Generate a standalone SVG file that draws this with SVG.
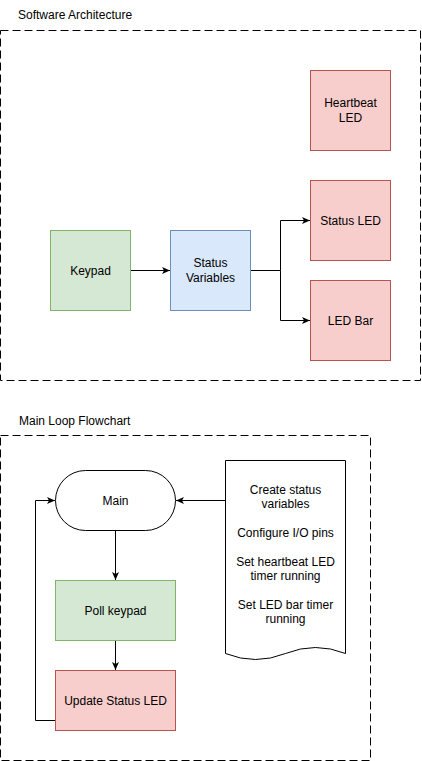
<svg xmlns="http://www.w3.org/2000/svg" width="422" height="761" viewBox="0 0 422 761">
<style>
text{font-family:"Liberation Sans",Arial,sans-serif;font-size:12px;fill:#000}
.c{text-anchor:middle}
.frame{fill:none;stroke:#000;stroke-dasharray:8 4}
.red{fill:#f8cecc;stroke:#b85450}
.green{fill:#d5e8d4;stroke:#82b366}
.blue{fill:#dae8fc;stroke:#6c8ebf}
.wht{fill:#fff;stroke:#000}
.ln{fill:none;stroke:#000;stroke-width:1}
</style>
<defs>
<marker id="arr" viewBox="0 0 8 8" refX="8" refY="4" markerWidth="8" markerHeight="8" markerUnits="userSpaceOnUse" orient="auto">
<path d="M0,0.5 L8,4 L0,7.5 L2,4 Z" fill="#000"/>
</marker>
</defs>
<rect width="422" height="761" fill="#fff"/>
<g id="frame-sw">
<rect class="frame" x="0.5" y="30.5" width="420" height="350"/>
<text x="18" y="19">Software Architecture</text>
</g>
<g id="frame-main">
<rect class="frame" x="0.5" y="435.5" width="370" height="325"/>
<text x="19" y="425">Main Loop Flowchart</text>
</g>
<g id="connectors">
<path class="ln" d="M130.5,270.5 H170" marker-end="url(#arr)"/>
<path class="ln" d="M250.5,270.5 H280.5 V220.5 H310" marker-end="url(#arr)"/>
<path class="ln" d="M280.5,270.5 V320.5 H310" marker-end="url(#arr)"/>
<path class="ln" d="M225.5,500.5 H176" marker-end="url(#arr)"/>
<path class="ln" d="M115.5,530.5 V580" marker-end="url(#arr)"/>
<path class="ln" d="M115.5,640.5 V670" marker-end="url(#arr)"/>
<path class="ln" d="M55.5,720.5 H35.5 V500.5 H55" marker-end="url(#arr)"/>
</g>
<g id="heartbeat-led">
<rect class="red" x="310.5" y="70.5" width="80" height="80"/>
<text class="c" x="350.5" y="107">Heartbeat</text>
<text class="c" x="350.5" y="122">LED</text>
</g>
<g id="status-led">
<rect class="red" x="310.5" y="180.5" width="80" height="80"/>
<text class="c" x="350.5" y="225">Status LED</text>
</g>
<g id="led-bar">
<rect class="red" x="310.5" y="280.5" width="80" height="80"/>
<text class="c" x="350.5" y="325">LED Bar</text>
</g>
<g id="keypad">
<rect class="green" x="50.5" y="230.5" width="80" height="80"/>
<text class="c" x="90.5" y="275">Keypad</text>
</g>
<g id="status-variables">
<rect class="blue" x="170.5" y="230.5" width="80" height="80"/>
<text class="c" x="210.5" y="267">Status</text>
<text class="c" x="210.5" y="282">Variables</text>
</g>
<g id="main">
<rect class="wht" x="55.5" y="470.5" width="120" height="60" rx="30" ry="30"/>
<text class="c" x="115.5" y="505">Main</text>
</g>
<g id="init-doc">
<path class="wht" d="M225.5,460.5 H345.5 V653.5 Q315.5,641.5 285.5,653.5 Q255.5,665.5 225.5,653.5 Z"/>
<text class="c" x="285.5" y="494">Create status</text>
<text class="c" x="285.5" y="508">variables</text>
<text class="c" x="285.5" y="537">Configure I/O pins</text>
<text class="c" x="285.5" y="566">Set heartbeat LED</text>
<text class="c" x="285.5" y="580">timer running</text>
<text class="c" x="285.5" y="609">Set LED bar timer</text>
<text class="c" x="285.5" y="623">running</text>
</g>
<g id="poll-keypad">
<rect class="green" x="55.5" y="580.5" width="120" height="60"/>
<text class="c" x="115.5" y="615">Poll keypad</text>
</g>
<g id="update-status-led">
<rect class="red" x="55.5" y="670.5" width="120" height="60"/>
<text class="c" x="115.5" y="705">Update Status LED</text>
</g>
</svg>
